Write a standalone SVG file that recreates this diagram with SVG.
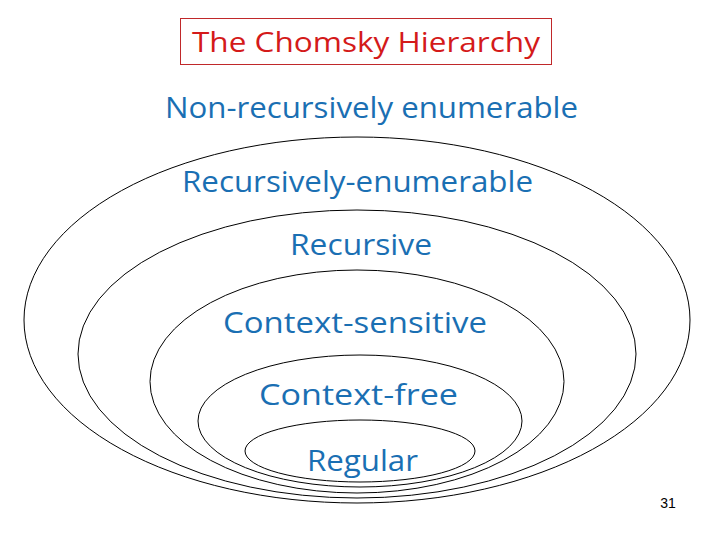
<svg xmlns="http://www.w3.org/2000/svg" width="720" height="540" viewBox="0 0 720 540">
<style>
.set{fill:none;stroke:#000;stroke-width:1}
.lbl{font-family:"Comic Sans MS","Open Sans","DejaVu Sans",sans-serif;font-size:30px;fill:#1a6fb3;text-anchor:middle}
.title{font-family:"Comic Sans MS","Open Sans","DejaVu Sans",sans-serif;font-size:28px;fill:#d41a1a;text-anchor:middle}
</style>
<rect width="720" height="540" fill="#fff"/>
<g id="title">
<rect x="180.5" y="18.5" width="371" height="46" fill="none" stroke="#c0282a" stroke-width="1"/>
<text class="title" x="366" y="52" textLength="348" lengthAdjust="spacingAndGlyphs">The Chomsky Hierarchy</text>
</g>
<g id="non-re">
<text class="lbl" x="371.5" y="118" textLength="413" lengthAdjust="spacingAndGlyphs">Non-recursively enumerable</text>
</g>
<g id="re">
<ellipse class="set" cx="357" cy="320" rx="333" ry="183"/>
<text class="lbl" x="357.5" y="192" textLength="351" lengthAdjust="spacingAndGlyphs">Recursively-enumerable</text>
</g>
<g id="recursive">
<ellipse class="set" cx="357" cy="354" rx="279" ry="144"/>
<text class="lbl" x="361" y="255" textLength="142" lengthAdjust="spacingAndGlyphs">Recursive</text>
</g>
<g id="context-sensitive">
<ellipse class="set" cx="357" cy="381.5" rx="207" ry="111.5"/>
<text class="lbl" x="355" y="333" textLength="264" lengthAdjust="spacingAndGlyphs">Context-sensitive</text>
</g>
<g id="context-free">
<ellipse class="set" cx="360" cy="421" rx="162" ry="66"/>
<text class="lbl" x="358.5" y="405" textLength="199" lengthAdjust="spacingAndGlyphs">Context-free</text>
</g>
<g id="regular">
<ellipse class="set" cx="360" cy="451" rx="115" ry="31"/>
<text class="lbl" x="362.5" y="471" textLength="111" lengthAdjust="spacingAndGlyphs">Regular</text>
</g>
<g id="connectors"></g>
<text x="668" y="508" font-family="Liberation Sans, Arial, sans-serif" font-size="14" fill="#000" text-anchor="middle">31</text>
</svg>
